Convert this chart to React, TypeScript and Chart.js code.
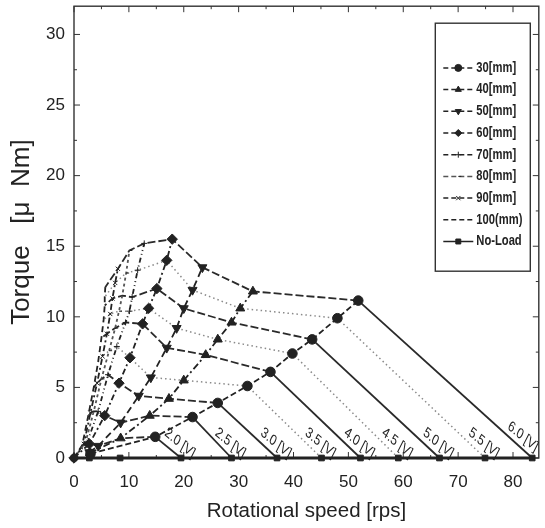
import React, { useEffect, useRef } from 'react';
import { Chart, registerables } from 'chart.js';
import { drawPoint } from 'chart.js/helpers';

Chart.register(...registerables);

const SANS = '"Liberation Sans", Arial, sans-serif';

// ---------- data ----------
const voltageLabels = ['2.0', '2.5', '3.0', '3.5', '4.0', '4.5', '5.0', '5.5', '6.0'];
const noLoadSpeed = [19.5, 28.7, 37.0, 45.1, 52.2, 59.1, 66.6, 74.9, 83.5];
const lowVoltageNoLoadSpeed = [0, 2.8, 8.4];

const distanceLabels = ['30[mm]', '40[mm]', '50[mm]', '60[mm]', '70[mm]', '80[mm]', '90[mm]', '100(mm)'];

const speed30 = [14.8, 21.6, 26.2, 31.6, 35.8, 39.8, 43.4, 48.0, 51.8];
const torque30 = [1.5, 2.9, 3.9, 5.1, 6.1, 7.4, 8.4, 9.9, 11.15];
const speed40 = [8.5, 13.8, 17.3, 20.0, 24.0, 26.2, 28.7, 30.3, 32.6];
const torque40 = [1.4, 3.0, 4.2, 5.5, 7.3, 8.4, 9.6, 10.6, 11.8];
const speed50 = [4.4, 8.5, 11.8, 14.0, 16.9, 18.7, 20.0, 21.6, 23.4];
const torque50 = [0.85, 2.5, 4.4, 5.7, 7.8, 9.2, 10.6, 11.9, 13.5];
const speed60 = [2.8, 5.6, 8.2, 10.2, 12.5, 13.6, 15.1, 16.9, 17.9];
const torque60 = [1.0, 3.0, 5.3, 7.1, 9.5, 10.6, 12.0, 14.0, 15.5];
const speed70 = [2.4, 4.4, 6.2, 7.8, 9.4, 10.1, 10.6, 11.6, 12.8];
const torque70 = [1.1, 3.3, 5.9, 7.9, 9.6, 10.4, 11.4, 13.3, 15.2];
const speed80 = [2.1, 3.6, 5.0, 6.4, 7.5, 8.2, 8.8, 9.5, 10.1];
const torque80 = [1.1, 3.3, 5.6, 7.6, 9.2, 10.4, 11.5, 13.1, 14.7];
const speed90 = [1.8, 3.0, 4.2, 5.2, 6.0, 6.6, 7.0, 7.5, 8.0];
const torque90 = [1.0, 3.2, 5.3, 7.2, 8.8, 10.2, 11.3, 12.4, 13.4];
const speed100 = [1.5, 2.6, 3.6, 4.4, 5.0, 5.4, 5.6, 5.6, 5.7];
const torque100 = [0.9, 3.0, 5.0, 6.8, 8.5, 9.8, 10.8, 11.4, 12.1];

const startSpeed = [3.0, 2.9, 2.8, 0, 0, 0, 0, 0];
const startTorque = [0.3, 0.35, 0.4, 0, 0, 0, 0, 0];

const xTickValues = [0, 10, 20, 30, 40, 50, 60, 70, 80];
const yTickValues = [0, 5, 10, 15, 20, 25, 30];
const xMax = 84.7;
const yMax = 32;

const speedByDistance = [speed30, speed40, speed50, speed60, speed70, speed80, speed90, speed100];
const torqueByDistance = [torque30, torque40, torque50, torque60, torque70, torque80, torque90, torque100];

// ---------- styles ----------
const distanceStyles = [
  { pointStyle: 'circle', radius: 4.8, rotation: 0, dash: [6, 3] },
  { pointStyle: 'triangle', radius: 5.2, rotation: 0, dash: [7, 3, 2, 3] },
  { pointStyle: 'triangle', radius: 5.2, rotation: 180, dash: [7, 4] },
  { pointStyle: 'rectRot', radius: 5.2, rotation: 0, dash: [6, 3, 2, 3] },
  { pointStyle: 'cross', radius: 3, rotation: 0, dash: [5, 3, 1, 3, 1, 3] },
  { pointStyle: 'dash', radius: 3, rotation: 0, dash: [3, 3] },
  { pointStyle: 'crossRot', radius: 3, rotation: 0, dash: [6, 3, 2, 3] },
  { pointStyle: false, radius: 0, rotation: 0, dash: [6, 4] },
];
const INK = '#222';

function buildDatasets() {
  const distanceDatasets = distanceLabels.map((label, i) => ({
    label,
    data: [
      { x: startSpeed[i], y: startTorque[i] },
      ...speedByDistance[i].map((s, k) => ({ x: s, y: torqueByDistance[i][k] })),
    ],
    borderColor: i === 5 ? '#555' : INK,
    backgroundColor: INK,
    borderWidth: 1.8,
    borderDash: distanceStyles[i].dash,
    pointStyle: distanceStyles[i].pointStyle as any,
    pointRadius: distanceStyles[i].radius,
    pointRotation: distanceStyles[i].rotation,
    pointBorderWidth: 1,
    pointBorderColor: INK,
    clip: false as any,
    tension: 0,
  }));

  const noLoadDataset = {
    label: 'No-Load',
    data: [...lowVoltageNoLoadSpeed, ...noLoadSpeed].map((s) => ({ x: s, y: 0 })),
    borderColor: INK,
    backgroundColor: INK,
    borderWidth: 2.8,
    borderDash: [],
    pointStyle: 'rect',
    pointRadius: 4,
    pointRotation: 0,
    pointBorderWidth: 1,
    pointBorderColor: INK,
    clip: false as any,
    tension: 0,
  };

  const voltageDatasets = voltageLabels.map((v, k) => {
    const dotted = v === '3.5' || v === '4.5' || v === '5.5';
    const data = [
      { x: noLoadSpeed[k], y: 0 },
      ...speedByDistance.map((arr, i) => ({ x: arr[k], y: torqueByDistance[i][k] })),
    ];
    const ds: any = {
      label: v + ' [V]',
      data,
      borderColor: dotted ? '#8a8a8a' : '#2a2a2a',
      borderWidth: dotted ? 1.5 : 1.8,
      borderDash: dotted ? [1.5, 3] : [],
      pointRadius: 0,
      clip: false,
      tension: 0,
    };
    if (!dotted) {
      ds.segment = { borderDash: (c: any) => (c.p0DataIndex === 0 ? [] : [8, 3]) };
    }
    return ds;
  });

  return { distanceDatasets, noLoadDataset, voltageDatasets };
}

// ---------- plugins ----------
const framePlugin = {
  id: 'frame',
  beforeDatasetsDraw(chart: any) {
    const { ctx, chartArea: a, scales } = chart;
    const x = scales.x;
    const y = scales.y;
    ctx.save();
    ctx.strokeStyle = '#333';
    ctx.lineWidth = 1.4;
    ctx.strokeRect(a.left, a.top, a.right - a.left, a.bottom - a.top);
    ctx.lineWidth = 1;
    const seg = (x1: number, y1: number, x2: number, y2: number) => {
      ctx.beginPath();
      ctx.moveTo(x1, y1);
      ctx.lineTo(x2, y2);
      ctx.stroke();
    };
    for (let v = 0; v <= xMax; v += 5) {
      const px = x.getPixelForValue(v);
      const len = v % 10 === 0 ? 6 : 3;
      seg(px, a.bottom, px, a.bottom - len);
      seg(px, a.top, px, a.top + len);
    }
    for (let v = 0; v <= yMax; v += 2.5) {
      const py = y.getPixelForValue(v);
      const len = v % 5 === 0 ? 6 : 3;
      seg(a.left, py, a.left + len, py);
      seg(a.right, py, a.right - len, py);
    }
    ctx.restore();
  },
};

const voltageLabelPlugin = {
  id: 'voltageLabels',
  afterDatasetsDraw(chart: any) {
    const { ctx, scales } = chart;
    const x = scales.x;
    const y = scales.y;
    ctx.save();
    ctx.fillStyle = '#222';
    ctx.font = `15px ${SANS}`;
    ctx.textAlign = 'center';
    ctx.textBaseline = 'middle';
    voltageLabels.forEach((v, k) => {
      let cx = noLoadSpeed[k] - 0.2;
      let cy = 1.05;
      if (cx > 81.8) {
        cx = 81.8;
        cy = 1.5;
      }
      ctx.save();
      ctx.translate(x.getPixelForValue(cx), y.getPixelForValue(cy));
      ctx.scale(0.78, 1);
      ctx.rotate((33 * Math.PI) / 180);
      ctx.fillText(`${v} [V]`, 0, 0);
      ctx.restore();
    });
    ctx.restore();
  },
};

const boxLegendPlugin = {
  id: 'boxLegend',
  afterDraw(chart: any) {
    const { ctx, chartArea: a } = chart;
    const left = a.right - 103.5;
    const top = a.top + 17;
    const w = 95;
    const h = 248;
    ctx.save();
    ctx.fillStyle = '#fff';
    ctx.fillRect(left, top, w, h);
    ctx.strokeStyle = '#333';
    ctx.lineWidth = 1.4;
    ctx.strokeRect(left, top, w, h);
    const items = chart.data.datasets.filter((d: any) => d._legend);
    items.forEach((d: any, i: number) => {
      const cy = top + 44.7 + i * 21.7;
      ctx.strokeStyle = d.borderColor;
      ctx.lineWidth = 1.5;
      ctx.setLineDash(d.label === 'No-Load' ? [] : [5, 3]);
      ctx.beginPath();
      ctx.moveTo(left + 8, cy);
      ctx.lineTo(left + 38, cy);
      ctx.stroke();
      ctx.setLineDash([]);
      if (d.pointStyle) {
        ctx.fillStyle = INK;
        ctx.strokeStyle = INK;
        ctx.lineWidth = 1;
        drawPoint(ctx, {
          pointStyle: d.pointStyle,
          radius: Math.min(d.pointRadius, 3.5),
          rotation: d.pointRotation,
          borderWidth: 1,
        } as any, left + 23, cy);
      }
      ctx.save();
      ctx.translate(left + 41, cy);
      ctx.scale(0.8, 1);
      ctx.fillStyle = '#222';
      ctx.font = `bold 14px ${SANS}`;
      ctx.textAlign = 'left';
      ctx.textBaseline = 'middle';
      ctx.fillText(d.label, 0, 0);
      ctx.restore();
    });
    ctx.restore();
  },
};

export default function App() {
  const ref = useRef<HTMLCanvasElement | null>(null);

  useEffect(() => {
    document.body.style.margin = '0';
    const { distanceDatasets, noLoadDataset, voltageDatasets } = buildDatasets();
    const legendSets = [...distanceDatasets, noLoadDataset].map((d) => ({ ...d, _legend: true }));
    const chart = new Chart(ref.current as HTMLCanvasElement, {
      type: 'line',
      data: { datasets: [...legendSets, ...voltageDatasets] as any },
      options: {
        responsive: false,
        animation: false,
        events: [],
        layout: { padding: { top: 5, right: 4.5, left: 0, bottom: 0 } },
        plugins: {
          legend: { display: false },
          tooltip: { enabled: false },
          title: { display: false },
        },
        scales: {
          x: {
            type: 'linear',
            min: 0,
            max: xMax,
            border: { display: false },
            grid: { display: false, drawTicks: false },
            ticks: {
              padding: 14,
              color: '#222',
              font: { family: SANS, size: 17 },
              maxRotation: 0,
              autoSkip: false,
            },
            afterBuildTicks: (s: any) => {
              s.ticks = xTickValues.map((value) => ({ value }));
            },
            afterFit: (s: any) => {
              s.height = 70;
              s.paddingLeft = 0;
              s.paddingRight = 0;
            },
            title: {
              display: true,
              text: 'Rotational speed [rps]',
              color: '#222',
              font: { family: SANS, size: 20.5 },
              padding: { top: 0, bottom: 4 },
            },
          },
          y: {
            type: 'linear',
            min: 0,
            max: yMax,
            border: { display: false },
            grid: { display: false, drawTicks: false },
            ticks: {
              padding: 9,
              color: '#222',
              font: { family: SANS, size: 17 },
              autoSkip: false,
            },
            afterBuildTicks: (s: any) => {
              s.ticks = yTickValues.map((value) => ({ value }));
            },
            afterFit: (s: any) => {
              s.width = 74;
              s.paddingTop = 0;
              s.paddingBottom = 0;
            },
            title: {
              display: true,
              text: 'Torque   [μ  Nm]',
              color: '#222',
              font: { family: SANS, size: 26 },
              padding: { top: 6, bottom: 0 },
            },
          },
        },
      },
      plugins: [framePlugin, voltageLabelPlugin, boxLegendPlugin],
    });
    return () => chart.destroy();
  }, []);

  return (
    <div style={{ position: 'absolute', left: 0, top: 0, width: 545, height: 528, background: '#fff' }}>
      <canvas ref={ref} width={545} height={528} />
    </div>
  );
}
